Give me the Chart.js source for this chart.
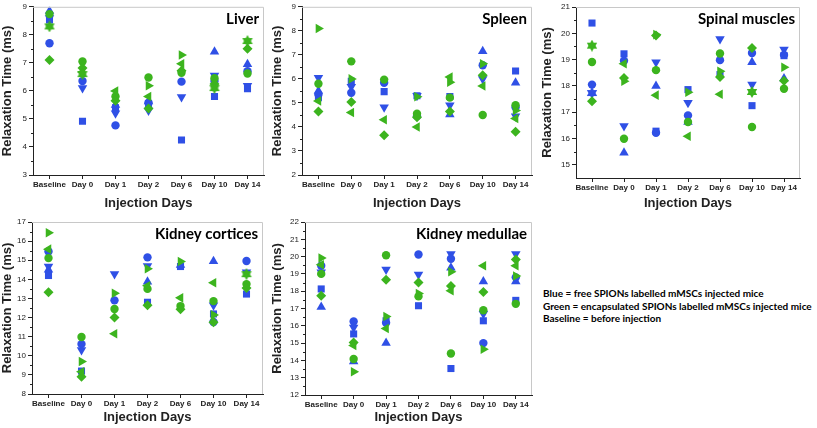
<!DOCTYPE html>
<html>
<head>
<meta charset="utf-8">
<script src="https://cdn.jsdelivr.net/npm/chart.js@4.4.1/dist/chart.umd.min.js"></script>
<style>
  body { margin: 0; background: #fff; width: 817px; height: 428px; position: relative; overflow: hidden; }
  canvas { position: absolute; }
  #note { position: absolute; left: 543px; top: 287px; font: bold 10px Lato, sans-serif; line-height: 12.6px; color: #000; white-space: nowrap; }
</style>
</head>
<body>
<canvas id="liver" width="270" height="215" style="left:0;top:0"></canvas>
<canvas id="spleen" width="270" height="215" style="left:270px;top:0"></canvas>
<canvas id="spinal" width="277" height="215" style="left:540px;top:0"></canvas>
<canvas id="cortex" width="270" height="213" style="left:0;top:215px"></canvas>
<canvas id="medulla" width="270" height="213" style="left:270px;top:215px"></canvas>
<div id="note">Blue = free SPIONs labelled mMSCs injected mice<br>Green = encapsulated SPIONs labelled mMSCs injected mice<br>Baseline = before injection</div>
<script>
// x categories
const days = ["Baseline", "Day 0", "Day 1", "Day 2", "Day 6", "Day 10", "Day 14"];

// Liver (ms)
const liverBlueSquare = [8.53, 4.92, 5.40, 5.55, 4.25, 5.80, 6.08];
const liverBlueCircle = [7.70, 6.35, 4.77, 5.58, 6.33, 6.35, 6.70];
const liverBlueUp = [8.85, null, 5.50, 5.62, null, 7.40, 6.95];
const liverBlueDown = [8.60, 6.10, 5.20, 5.30, 5.78, 6.55, 6.18];
const liverGreenCircle = [8.74, 7.05, 5.80, 6.48, 6.65, 6.45, 6.62];
const liverGreenDiamond = [7.10, 6.82, 5.65, 5.37, 6.72, 6.25, 7.50];
const liverGreenStar = [8.30, 6.60, null, null, null, 6.10, 7.78];
const liverGreenLeft = [null, 6.67, 6.00, 5.80, 6.97, null, null];
const liverGreenRight = [null, null, null, 6.18, 7.28, null, null];

// Spleen (ms)
const spleenBlueSquare = [5.22, 5.90, 5.47, 5.30, 5.27, null, 6.33];
const spleenBlueCircle = [5.35, 5.42, 5.84, 4.45, null, 6.57, 4.82];
const spleenBlueUp = [5.50, null, null, null, 4.52, 7.15, 5.84];
const spleenBlueDown = [6.05, 5.67, 4.82, 5.30, 4.90, 6.00, 4.45];
const spleenGreenCircle = [5.80, 6.73, 5.97, 4.55, 5.22, 4.50, 4.90];
const spleenGreenDiamond = [4.64, 5.04, 3.65, 4.40, 4.64, 6.15, 3.80];
const spleenGreenLeft = [5.08, 4.60, 4.30, 4.00, 6.08, 5.70, 4.35];
const spleenGreenRight = [8.10, 6.00, null, 5.26, 5.86, 6.63, 4.68];

// Spinal muscles (ms)
const spinalBlueSquare = [20.39, 19.22, 16.28, 17.86, 18.43, 17.25, 19.15];
const spinalBlueCircle = [18.05, 18.96, 16.22, 16.88, 18.98, 19.25, 19.18];
const spinalBlueUp = [null, 15.46, 18.00, 16.63, null, 18.90, 18.28];
const spinalBlueDown = [null, 16.48, 18.90, 17.36, 19.78, 18.05, 19.38];
const spinalBlueStar = [17.73, null, null, null, null, null, null];
const spinalGreenCircle = [18.91, 15.99, 18.60, 16.63, 19.23, 16.44, 17.89];
const spinalGreenDiamond = [17.42, 18.30, 19.92, null, 18.34, 19.44, 18.20];
const spinalGreenStar = [19.53, null, null, null, null, 17.77, null];
const spinalGreenLeft = [null, 18.84, 17.65, 16.09, 17.68, null, null];
const spinalGreenRight = [null, 18.18, 19.95, 17.76, 18.56, null, 18.71];

// Kidney cortices (ms)
const cortexBlueSquare = [14.20, 9.20, null, 12.80, 14.67, 12.19, 13.23];
const cortexBlueCircle = [15.46, 10.61, 12.90, 15.15, null, 11.77, 14.96];
const cortexBlueUp = [14.50, null, null, 13.88, 14.75, 14.94, null];
const cortexBlueDown = [14.67, 10.30, 14.28, 14.70, null, 12.65, 14.37];
const cortexGreenCircle = [15.11, 10.98, 12.45, 13.50, 12.60, 12.86, 13.75];
const cortexGreenDiamond = [13.33, 8.90, 12.00, 12.65, 12.43, 11.75, 13.55];
const cortexGreenStar = [null, null, null, null, null, null, 14.27];
const cortexGreenLeft = [15.58, 9.17, 11.15, 13.66, 13.03, 13.82, null];
const cortexGreenRight = [16.44, 9.70, 13.27, 14.55, 14.93, 12.14, null];

// Kidney medullae (ms)
const medullaBlueSquare = [18.13, 15.53, 16.29, 17.16, 13.53, 16.29, 17.47];
const medullaBlueCircle = [19.47, 16.25, 16.17, 20.12, 19.88, 15.00, 18.80];
const medullaBlueUp = [17.08, 13.93, 15.00, null, 19.35, 18.56, 18.56];
const medullaBlueDown = [19.10, 15.90, 19.25, 18.96, 20.15, 16.70, 20.15];
const medullaGreenCircle = [19.00, 14.08, 20.08, 17.70, 14.40, 16.90, 17.27];
const medullaGreenDiamond = [17.73, 15.04, 18.66, 18.50, 18.30, 17.96, 19.83];
const medullaGreenLeft = [19.53, 14.86, 15.84, null, 18.02, 19.47, 19.47];
const medullaGreenRight = [19.92, 13.35, 16.54, 17.87, 19.12, 14.65, 18.88];

const blue = "#2f50e6";
const green = "#3cb41e";

// filled six-point star, Chart.js only has a line star
function starImage(color) {
  const c = document.createElement("canvas");
  c.width = 12; c.height = 12;
  const g = c.getContext("2d");
  g.fillStyle = color;
  for (const a0 of [-Math.PI / 2, Math.PI / 2]) {
    g.beginPath();
    for (let k = 0; k < 3; k++) {
      const a = a0 + k * 2 * Math.PI / 3;
      g.lineTo(6 + 6 * Math.cos(a), 6 + 6 * Math.sin(a));
    }
    g.fill();
  }
  return c;
}

const shapes = {
  square: { style: "rect", rot: 0, r: 5 },
  circle: { style: "circle", rot: 0, r: 4.2 },
  up: { style: "triangle", rot: 0, r: 5.5 },
  down: { style: "triangle", rot: 180, r: 5.5 },
  left: { style: "triangle", rot: -90, r: 5.5 },
  right: { style: "triangle", rot: 90, r: 5.5 },
  diamond: { style: "rectRot", rot: 0, r: 5 }
};

function series(data, color, shape) {
  const s = shapes[shape] || { style: starImage(color), rot: 0, r: 6 };
  return {
    data: data,
    backgroundColor: color,
    borderColor: color,
    showLine: false,
    pointStyle: s.style,
    pointRotation: s.rot,
    pointRadius: s.r,
    pointHoverRadius: s.r,
    pointBorderWidth: 0
  };
}

// frame, minor ticks and the panel name
const decor = {
  id: "decor",
  afterDraw(chart, args, opts) {
    const { ctx, chartArea: a } = chart;
    const y = chart.scales.y;
    ctx.save();
    ctx.strokeStyle = "#c8c8c8";
    ctx.lineWidth = 1;
    ctx.beginPath();
    ctx.moveTo(a.left, a.top + 0.5);
    ctx.lineTo(a.right - 0.5, a.top + 0.5);
    ctx.lineTo(a.right - 0.5, a.bottom);
    ctx.stroke();
    ctx.strokeStyle = "#222";
    ctx.beginPath();
    for (let v = Math.ceil(y.min) - 0.5; v < y.max; v += 1) {
      if (v <= y.min) continue;
      const py = Math.round(y.getPixelForValue(v)) + 0.5;
      ctx.moveTo(a.left, py);
      ctx.lineTo(a.left - 2, py);
    }
    ctx.stroke();
    ctx.fillStyle = "#000";
    ctx.font = "bold 15px Lato, sans-serif";
    ctx.textAlign = "right";
    ctx.textBaseline = "alphabetic";
    ctx.fillText(opts.name, a.right - 5, a.top + 17);
    ctx.restore();
  }
};

function makePanel(p) {
  const majors = [];
  for (let v = Math.ceil(p.min); v <= p.max; v++) majors.push({ value: v });
  new Chart(document.getElementById(p.id), {
    type: "line",
    data: { labels: days, datasets: p.sets },
    plugins: [decor],
    options: {
      responsive: false,
      animation: false,
      layout: { padding: { top: p.padT, right: p.padR, left: 0, bottom: 0 } },
      plugins: { legend: { display: false }, tooltip: { enabled: false }, decor: { name: p.name } },
      scales: {
        x: {
          type: "category",
          offset: true,
          afterFit: s => { s.height = p.xh; },
          border: { color: "#222", width: 1 },
          grid: { offset: false, drawOnChartArea: false, drawTicks: true, tickLength: 4, color: "#222" },
          ticks: { color: "#222", padding: 1, maxRotation: 0, autoSkip: false, font: { family: "Liberation Sans", size: 8, weight: "bold" } },
          title: { display: true, text: "Injection Days", color: "#222", padding: { top: 0, bottom: p.tPad }, font: { family: "Liberation Sans", size: 13, weight: "bold" } }
        },
        y: {
          min: p.min,
          max: p.max,
          afterFit: s => { s.width = p.yw; },
          afterBuildTicks: s => { s.ticks = majors.slice(); },
          border: { color: "#222", width: 1 },
          grid: { drawOnChartArea: false, drawTicks: true, tickLength: 4, color: "#222" },
          ticks: { color: "#222", padding: 2, font: { family: "Liberation Sans", size: 8 } },
          title: { display: true, text: "Relaxation Time (ms)", color: "#222", padding: 0, font: { family: "Liberation Sans", size: 13, weight: "bold" } }
        }
      }
    }
  });
}

makePanel({
  id: "liver", name: "Liver", min: 3, max: 9, yw: 33, padR: 6, padT: 5, xh: 40, tPad: 4,
  sets: [
    series(liverGreenStar, green, "star"),
    series(liverGreenRight, green, "right"),
    series(liverGreenLeft, green, "left"),
    series(liverGreenDiamond, green, "diamond"),
    series(liverGreenCircle, green, "circle"),
    series(liverBlueDown, blue, "down"),
    series(liverBlueUp, blue, "up"),
    series(liverBlueCircle, blue, "circle"),
    series(liverBlueSquare, blue, "square")
  ]
});

makePanel({
  id: "spleen", name: "Spleen", min: 2, max: 9, yw: 32, padR: 8, padT: 5, xh: 40, tPad: 4,
  sets: [
    series(spleenGreenRight, green, "right"),
    series(spleenGreenLeft, green, "left"),
    series(spleenGreenDiamond, green, "diamond"),
    series(spleenGreenCircle, green, "circle"),
    series(spleenBlueDown, blue, "down"),
    series(spleenBlueUp, blue, "up"),
    series(spleenBlueCircle, blue, "circle"),
    series(spleenBlueSquare, blue, "square")
  ]
});

makePanel({
  id: "spinal", name: "Spinal muscles", min: 14.5, max: 21, yw: 36, padR: 17, padT: 7, xh: 37, tPad: 4,
  sets: [
    series(spinalGreenStar, green, "star"),
    series(spinalGreenRight, green, "right"),
    series(spinalGreenLeft, green, "left"),
    series(spinalGreenDiamond, green, "diamond"),
    series(spinalGreenCircle, green, "circle"),
    series(spinalBlueStar, blue, "star"),
    series(spinalBlueDown, blue, "down"),
    series(spinalBlueUp, blue, "up"),
    series(spinalBlueCircle, blue, "circle"),
    series(spinalBlueSquare, blue, "square")
  ]
});

makePanel({
  id: "cortex", name: "Kidney cortices", min: 8, max: 17, yw: 32, padR: 7, padT: 7, xh: 34, tPad: 3,
  sets: [
    series(cortexGreenStar, green, "star"),
    series(cortexGreenRight, green, "right"),
    series(cortexGreenLeft, green, "left"),
    series(cortexGreenDiamond, green, "diamond"),
    series(cortexGreenCircle, green, "circle"),
    series(cortexBlueDown, blue, "down"),
    series(cortexBlueUp, blue, "up"),
    series(cortexBlueCircle, blue, "circle"),
    series(cortexBlueSquare, blue, "square")
  ]
});

makePanel({
  id: "medulla", name: "Kidney medullae", min: 12, max: 22, yw: 35, padR: 8, padT: 7, xh: 33, tPad: 3,
  sets: [
    series(medullaGreenRight, green, "right"),
    series(medullaGreenLeft, green, "left"),
    series(medullaGreenDiamond, green, "diamond"),
    series(medullaGreenCircle, green, "circle"),
    series(medullaBlueDown, blue, "down"),
    series(medullaBlueUp, blue, "up"),
    series(medullaBlueCircle, blue, "circle"),
    series(medullaBlueSquare, blue, "square")
  ]
});
</script>
</body>
</html>
